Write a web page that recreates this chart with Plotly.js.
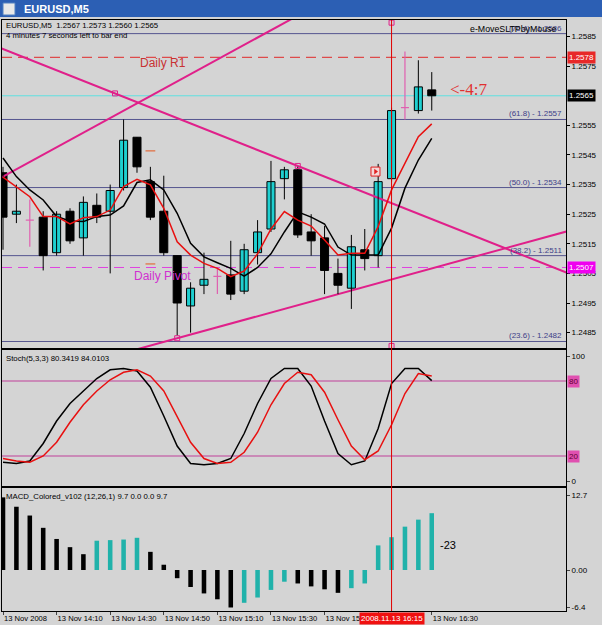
<!DOCTYPE html>
<html>
<head>
<meta charset="utf-8">
<script src="https://cdn.plot.ly/plotly-3.0.1.min.js"></script>
<style>html,body{margin:0;padding:0;background:#D4D0C8;}#chart{width:602px;height:625px;}</style>
</head>
<body>
<div id="chart"></div>
<script>
// ---------- DATA ----------
const barTimes = ["13:50","13:55","14:00","14:05","14:10","14:15","14:20","14:25","14:30","14:35","14:40","14:45","14:50","14:55","15:00","15:05","15:10","15:15","15:20","15:25","15:30","15:35","15:40","15:45","15:50","15:55","16:00","16:05","16:10","16:15","16:20","16:25","16:30"];
const opens  = [1.2539,1.2525,1.2523,1.2524,1.2512,1.2526,1.2517,1.2528,1.2526,1.2534,1.2551,1.2536,1.2526,1.2511,1.2494,1.2501,1.2504,1.25045,1.2499,1.2512,1.2520,1.2537,1.2540,1.2519,1.2517,1.2505,1.2500,1.2513,1.2511,1.2537,1.2561,1.2560,1.2567];
const highs  = [1.2541,1.2535,1.2530,1.2526,1.2526,1.2527,1.2531,1.2532,1.2535,1.2557,1.2551,1.2541,1.2538,1.2511,1.2502,1.2512,1.2507,1.2516,1.2515,1.2523,1.2543,1.2541,1.2541,1.2525,1.2521,1.2510,1.2518,1.2520,1.2542,1.2561,1.2580,1.2577,1.2573];
const lows   = [1.2513,1.2522,1.2514,1.2506,1.2511,1.2515,1.2511,1.2522,1.2505,1.2533,1.2539,1.2523,1.2511,1.2484,1.2485,1.2498,1.2498,1.2496,1.2498,1.2508,1.2519,1.2530,1.2517,1.2511,1.2498,1.2498,1.2493,1.2506,1.2507,1.2536,1.2557,1.2559,1.2560];
const closes = [1.2524,1.2526,1.2523,1.2511,1.2525,1.2516,1.2529,1.2524,1.2533,1.2550,1.2541,1.2524,1.2512,1.2495,1.2500,1.2503,1.2504,1.2498,1.2513,1.2519,1.2536,1.2540,1.2518,1.2516,1.2506,1.2501,1.2514,1.2510,1.2536,1.2560,1.2561,1.2568,1.2565];
const maFast = [1.25375,1.25343,1.25309,1.25242,1.25242,1.25217,1.25238,1.25242,1.25264,1.25343,1.25368,1.25349,1.2527,1.25157,1.25112,1.25084,1.25067,1.25039,1.25058,1.25116,1.2520,1.25259,1.2523,1.2521,1.25163,1.25112,1.25118,1.25118,1.25208,1.25332,1.25422,1.25512,1.25555];
const maSlow = [1.2544,1.25377,1.25332,1.25298,1.25242,1.25227,1.25225,1.25242,1.25247,1.25278,1.25357,1.25366,1.25332,1.25253,1.25152,1.25106,1.25086,1.25067,1.25041,1.2507,1.25116,1.2519,1.25258,1.2524,1.25217,1.25139,1.25112,1.25112,1.25112,1.25203,1.25338,1.25433,1.25506];
const stochK = [15,14,16,30,48,62,72,82,89,90,88,75,52,28,14,13,14,18,38,62,82,90,90,76,48,22,13,16,42,78,90,90,80.34];
const stochD = [18,16,15,20,31,47,61,72,81,87,89,84,72,52,31,18,14,15,23,39,61,78,87,85,71,49,28,17,24,45,70,86,84.01];
const macdVals = [12.4,10.8,9.3,7.2,5.3,3.9,2.7,5.0,5.1,5.2,5.5,3.1,0.9,-1.4,-2.9,-4.0,-5.0,-6.4,-5.6,-4.7,-3.4,-2.0,-2.3,-2.8,-3.3,-3.9,-3.1,-2.3,4.2,5.6,7.4,8.6,9.7];

const fibLevels = [1.2586,1.2557,1.2534,1.2511,1.2482];
const fibLabels = ["(76.4) - 1.2586","(61.8) - 1.2557","(50.0) - 1.2534","(38.2) - 1.2511","(23.6) - 1.2482"];
const bidPrice = 1.2565, dailyR1 = 1.2578, dailyPivot = 1.2507;
// trendlines: [[bar, price],[bar, price]]
const trendUpper = [[0,1.25377],[10.72,1.25642]];
const trendDown  = [[8.36,1.25658],[22,1.25413]];
const trendLower = [[13,1.24831],[42,1.25191]];
const anchorBars   = [8.36,22,13,29,29];
const anchorPrices = [1.25658,1.25413,1.24831,1.25897,1.24805];
const fractalBars = [11,11], fractalPrices = [1.25464,1.25082];
const crossBar = 29;
const priceTicks = [1.2485,1.2495,1.2505,1.2515,1.2525,1.2535,1.2545,1.2555,1.2575,1.2585];
const timeTickBars = [0,4,8,12,16,20,24,28,32];
const timeTickText = ["13 Nov 2008","13 Nov 14:10","13 Nov 14:30","13 Nov 14:50","13 Nov 15:10","13 Nov 15:30","13 Nov 15:50","","13 Nov 16:30"];

// ---------- BUILD ----------
const W=602,H=625;
const px = v=>v/W, py = v=>(H-v)/H;
const N = opens.length;
const idx = [...Array(N).keys()];
const XR = [-0.075, 42.02];
const CYAN='#1FCFD0', PINK='#E0208A', DOJI='#E060B0', TEAL='#20B2AA';
const FONT='Liberation Sans, Arial, sans-serif';

const isDoji = idx.map(i=>opens[i]===closes[i]);
const traces = [];

function extLine(pts){
  const [[x0,y0],[x1,y1]] = pts; const s=(y1-y0)/(x1-x0);
  return {x:[-2,45], y:[y0+s*(-2-x0), y0+s*(45-x0)]};
}
[trendUpper,trendDown,trendLower].forEach(t=>{
  const l=extLine(t);
  traces.push({type:'scatter',mode:'lines',x:l.x,y:l.y,xaxis:'x',yaxis:'y',line:{color:PINK,width:2},hoverinfo:'skip'});
});

// wicks
const wx=[],wy=[];
idx.forEach(i=>{ if(!isDoji[i]){ wx.push(i,i,null); wy.push(lows[i],highs[i],null);} });
traces.push({type:'scatter',mode:'lines',x:wx,y:wy,line:{color:'#000',width:1},xaxis:'x',yaxis:'y',hoverinfo:'skip'});
// bodies
const bi=idx.filter(i=>!isDoji[i]);
traces.push({type:'bar',x:bi,base:bi.map(i=>Math.min(opens[i],closes[i])),y:bi.map(i=>Math.max(Math.abs(closes[i]-opens[i]),0.00002)),
  width:0.6,marker:{color:bi.map(i=>closes[i]>opens[i]?CYAN:'#000'),line:{color:'#000',width:1}},xaxis:'x',yaxis:'y',hoverinfo:'skip'});
// dojis
const dx=[],dy=[];
idx.forEach(i=>{ if(isDoji[i]){ dx.push(i,i,null,i-0.3,i+0.3,null); dy.push(lows[i],highs[i],null,opens[i],opens[i],null);} });
traces.push({type:'scatter',mode:'lines',x:dx,y:dy,line:{color:DOJI,width:1.2},xaxis:'x',yaxis:'y',hoverinfo:'skip'});
// MAs
traces.push({type:'scatter',mode:'lines',x:idx,y:maSlow,line:{color:'#000',width:1.5},xaxis:'x',yaxis:'y'});
traces.push({type:'scatter',mode:'lines',x:idx,y:maFast,line:{color:'#E81010',width:1.5},xaxis:'x',yaxis:'y'});
// markers
traces.push({type:'scatter',mode:'markers',x:anchorBars,y:anchorPrices,marker:{symbol:'square-open',size:5,color:PINK,line:{width:1}},xaxis:'x',yaxis:'y',cliponaxis:false});
traces.push({type:'scatter',mode:'markers',x:fractalBars,y:fractalPrices,marker:{symbol:'line-ew-open',size:7,color:'#E0805A',line:{width:1.5,color:'#E0805A'}},xaxis:'x',yaxis:'y'});
traces.push({type:'scatter',mode:'markers',x:[27.8],y:[1.25394],marker:{symbol:'square',size:9,color:'#F4D8D8',line:{width:1,color:'#E02020'}},xaxis:'x',yaxis:'y'});
traces.push({type:'scatter',mode:'markers',x:[27.8],y:[1.25394],marker:{symbol:'triangle-right',size:5,color:'#E02020'},xaxis:'x',yaxis:'y'});

// stoch
traces.push({type:'scatter',mode:'lines',x:idx,y:stochK,line:{color:'#000',width:1.5},xaxis:'x2',yaxis:'y2'});
traces.push({type:'scatter',mode:'lines',x:idx,y:stochD,line:{color:'#E81010',width:1.5},xaxis:'x2',yaxis:'y2'});
// macd
traces.push({type:'bar',x:idx,y:macdVals,width:0.34,marker:{color:macdVals.map((v,i)=>i>0&&v>macdVals[i-1]?TEAL:'#000'),line:{width:0}},xaxis:'x3',yaxis:'y3'});

const shapes=[], ann=[];
// title bar
shapes.push({type:'rect',xref:'paper',yref:'paper',x0:0,x1:1,y0:py(17),y1:1,fillcolor:'#2C5FB4',line:{width:0},layer:'below'});
shapes.push({type:'rect',xref:'paper',yref:'paper',x0:px(3),x1:px(15),y0:py(15),y1:py(3),fillcolor:'#E8E8E8',line:{color:'#5080C0',width:1}});
ann.push({xref:'paper',yref:'paper',x:px(22),y:py(9),text:'<b>EURUSD,M5</b>',showarrow:false,xanchor:'left',yanchor:'middle',font:{family:FONT,size:11,color:'#fff'}});
// fib lines
fibLevels.forEach((v,k)=>{
  shapes.push({type:'line',xref:'x domain',yref:'y',x0:0,x1:1,y0:v,y1:v,line:{color:'#55558F',width:1},layer:'below'});
  ann.push({xref:'paper',yref:'y',x:px(564),y:v,text:fibLabels[k],showarrow:false,xanchor:'right',yanchor:'bottom',yshift:-1,font:{family:FONT,size:8,color:'#404088'}});
});
shapes.push({type:'line',xref:'x domain',yref:'y',x0:0,x1:1,y0:bidPrice,y1:bidPrice,line:{color:'#5EE0E0',width:1},layer:'below'});
shapes.push({type:'line',xref:'x domain',yref:'y',x0:0,x1:1,y0:dailyR1,y1:dailyR1,line:{color:'#E02828',width:1,dash:'10px,6px'},layer:'below'});
shapes.push({type:'line',xref:'x domain',yref:'y',x0:0,x1:1,y0:dailyPivot,y1:dailyPivot,line:{color:'#E040E0',width:1,dash:'10px,6px'},layer:'below'});
// stoch levels
[80,20].forEach(v=>shapes.push({type:'line',xref:'x2 domain',yref:'y2',x0:0,x1:1,y0:v,y1:v,line:{color:'#C0409A',width:1},layer:'below'}));
// crosshair
shapes.push({type:'line',xref:'x',yref:'paper',x0:crossBar,x1:crossBar,y0:py(611),y1:py(20),line:{color:'#E00000',width:1}});

// texts
ann.push({xref:'paper',yref:'paper',x:px(4),y:py(25),text:'EURUSD,M5  1.2567 1.2573 1.2560 1.2565',showarrow:false,xanchor:'left',yanchor:'middle',font:{family:FONT,size:7.8,color:'#000'}});
ann.push({xref:'paper',yref:'paper',x:px(4),y:py(35),text:'4 minutes 7 seconds left to bar end',showarrow:false,xanchor:'left',yanchor:'middle',font:{family:FONT,size:7.8,color:'#000'}});
ann.push({xref:'paper',yref:'paper',x:px(558),y:py(29),text:'e-MoveSLTPbyMouse',showarrow:false,xanchor:'right',yanchor:'middle',font:{family:FONT,size:8.8,color:'#000'}});
ann.push({xref:'x',yref:'y',x:10.07,y:1.25761,text:'Daily R1',showarrow:false,xanchor:'left',yanchor:'middle',font:{family:FONT,size:12,color:'#C83232'}});
ann.push({xref:'x',yref:'y',x:9.63,y:1.25041,text:'Daily Pivot',showarrow:false,xanchor:'left',yanchor:'middle',font:{family:FONT,size:12,color:'#D030D0'}});
ann.push({xref:'x',yref:'y',x:33.2,y:1.2567,text:'<-4:7',showarrow:false,xanchor:'left',yanchor:'middle',font:{family:'Liberation Serif, serif',size:17,color:'#E03030'}});
ann.push({xref:'paper',yref:'paper',x:px(4),y:py(358),text:'Stoch(5,3,3) 80.3419 84.0103',showarrow:false,xanchor:'left',yanchor:'middle',font:{family:FONT,size:7.8,color:'#000'}});
ann.push({xref:'paper',yref:'paper',x:px(4),y:py(496),text:'MACD_Colored_v102 (12,26,1) 9.7 0.0 0.0 9.7',showarrow:false,xanchor:'left',yanchor:'middle',font:{family:FONT,size:7.8,color:'#000'}});
ann.push({xref:'x3',yref:'y3',x:32.5,y:4.3,text:'-23',showarrow:false,xanchor:'left',yanchor:'middle',font:{family:FONT,size:11,color:'#000'}});
// axis value labels
const axLab=(yref,y,text,bg,fc)=>ann.push({xref:'paper',yref:yref,x:px(567),y:y,text:text,showarrow:false,xanchor:'left',yanchor:'middle',bgcolor:bg,borderpad:1,font:{family:FONT,size:8,color:fc}});
axLab('y',dailyR1,'1.2578','#E82828','#fff');
axLab('y',bidPrice,'1.2565','#000','#fff');
axLab('y',dailyPivot,'1.2507','#F000F0','#fff');
axLab('y2',80,'80','#E050B0','#600030');
axLab('y2',20,'20','#E050B0','#600030');
ann.push({xref:'x',yref:'paper',x:crossBar,y:py(618),text:'2008.11.13 16:15',showarrow:false,xanchor:'center',yanchor:'middle',bgcolor:'#F01010',borderpad:1,font:{family:FONT,size:8,color:'#fff'}});

const axBase={showline:true,linecolor:'#000',linewidth:1,mirror:true,showgrid:false,zeroline:false,fixedrange:true};
const tf={family:FONT,size:8,color:'#000'};
const layout={
  width:W,height:H,margin:{l:0,r:0,t:0,b:0},paper_bgcolor:'#D4D4D4',plot_bgcolor:'#D4D4D4',
  showlegend:false,barmode:'overlay',hovermode:false,
  xaxis:Object.assign({},axBase,{domain:[px(2),px(566)],range:XR,anchor:'y',showticklabels:false,ticks:''}),
  yaxis:Object.assign({},axBase,{domain:[py(348),py(20)],range:[1.24798,1.25906],side:'right',anchor:'x',tickvals:priceTicks,ticktext:priceTicks.map(v=>v.toFixed(4)),ticks:'outside',ticklen:3,tickcolor:'#000',tickfont:tf}),
  xaxis2:Object.assign({},axBase,{domain:[px(2),px(566)],range:XR,anchor:'y2',matches:'x',showticklabels:false,ticks:''}),
  yaxis2:Object.assign({},axBase,{domain:[py(486),py(350)],range:[-4,104.8],side:'right',anchor:'x2',tickvals:[0,100],ticktext:['0','100'],ticks:'outside',ticklen:3,tickfont:tf}),
  xaxis3:Object.assign({},axBase,{domain:[px(2),px(566)],range:XR,anchor:'y3',matches:'x',tickvals:timeTickBars,ticktext:timeTickText,ticks:'outside',ticklen:3,tickangle:0,tickfont:{family:FONT,size:7.6,color:'#000'},ticklabelposition:'outside right',ticklabelstandoff:0}),
  yaxis3:Object.assign({},axBase,{domain:[py(611),py(488)],range:[-7.0,14.0],side:'right',anchor:'x3',tickvals:[-6.4,0,12.7],ticktext:['-6.4','0.00','12.7'],ticks:'outside',ticklen:3,tickfont:tf}),
  shapes:shapes,annotations:ann
};
Plotly.newPlot('chart',traces,layout,{staticPlot:true,displayModeBar:false});
</script>
</body>
</html>
